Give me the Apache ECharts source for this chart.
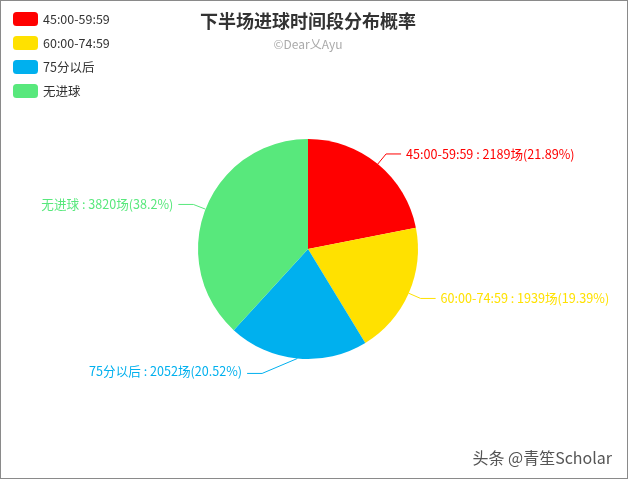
<!DOCTYPE html>
<html>
<head>
<meta charset="utf-8">
<script src="https://cdn.jsdelivr.net/npm/echarts@6/dist/echarts.min.js"></script>
<style>
html,body{margin:0;padding:0;background:#fff;}
#main{width:628px;height:479px;box-sizing:border-box;border:1px solid #8a8a8a;}
</style>
</head>
<body>
<div id="main"></div>
<script>
const categories = ['45:00-59:59', '60:00-74:59', '75分以后', '无进球'];
const values = [2189, 1939, 2052, 3820];
const colors = ['#FF0000', '#FFE100', '#00B0EE', '#58E87C'];

const chart = echarts.init(document.getElementById('main'));
const font = '"Noto Sans CJK SC", "Noto Sans", sans-serif';
chart.setOption({
  animation: false,
  color: colors,
  title: {
    text: '下半场进球时间段分布概率',
    subtext: '©Dear乂Ayu',
    left: 302,
    textAlign: 'center',
    top: 6,
    itemGap: 8,
    textStyle: { fontSize: 18, fontWeight: 'bold', color: '#333', fontFamily: font },
    subtextStyle: { fontSize: 12, color: '#aaa', fontFamily: font }
  },
  legend: {
    orient: 'vertical',
    left: 7,
    top: 6,
    itemWidth: 25,
    itemHeight: 14,
    itemGap: 10,
    itemStyle: { borderRadius: 4 },
    textStyle: { fontSize: 12.5, color: '#333', fontFamily: font },
    data: categories
  },
  graphic: [{
    type: 'text',
    right: 15,
    top: 449,
    style: { text: '头条 @青笙Scholar', fill: '#555', font: '16px "Noto Sans CJK SC", sans-serif' }
  }],
  series: [{
    type: 'pie',
    center: [307, 248],
    radius: 110,
    startAngle: 90,
    clockwise: true,
    label: {
      formatter: '{b} : {c}场({d}%)',
      fontSize: 12.6,
      fontFamily: font
    },
    labelLine: { length: 13, length2: 15, lineStyle: { width: 1 } },
    labelLayout: function (p) {
      if (p.dataIndex !== 2 || !p.labelLinePoints) return {};
      const dx = -34;
      const pts = p.labelLinePoints;
      return {
        dx: dx,
        labelLinePoints: [
          [pts[0][0], pts[0][1]],
          [pts[1][0] + dx, pts[1][1] + 2],
          [pts[2][0] + dx, pts[2][1] + 2]
        ]
      };
    },
    data: categories.map((n, i) => ({ name: n, value: values[i], label: { color: colors[i] } }))
  }]
});
</script>
</body>
</html>
